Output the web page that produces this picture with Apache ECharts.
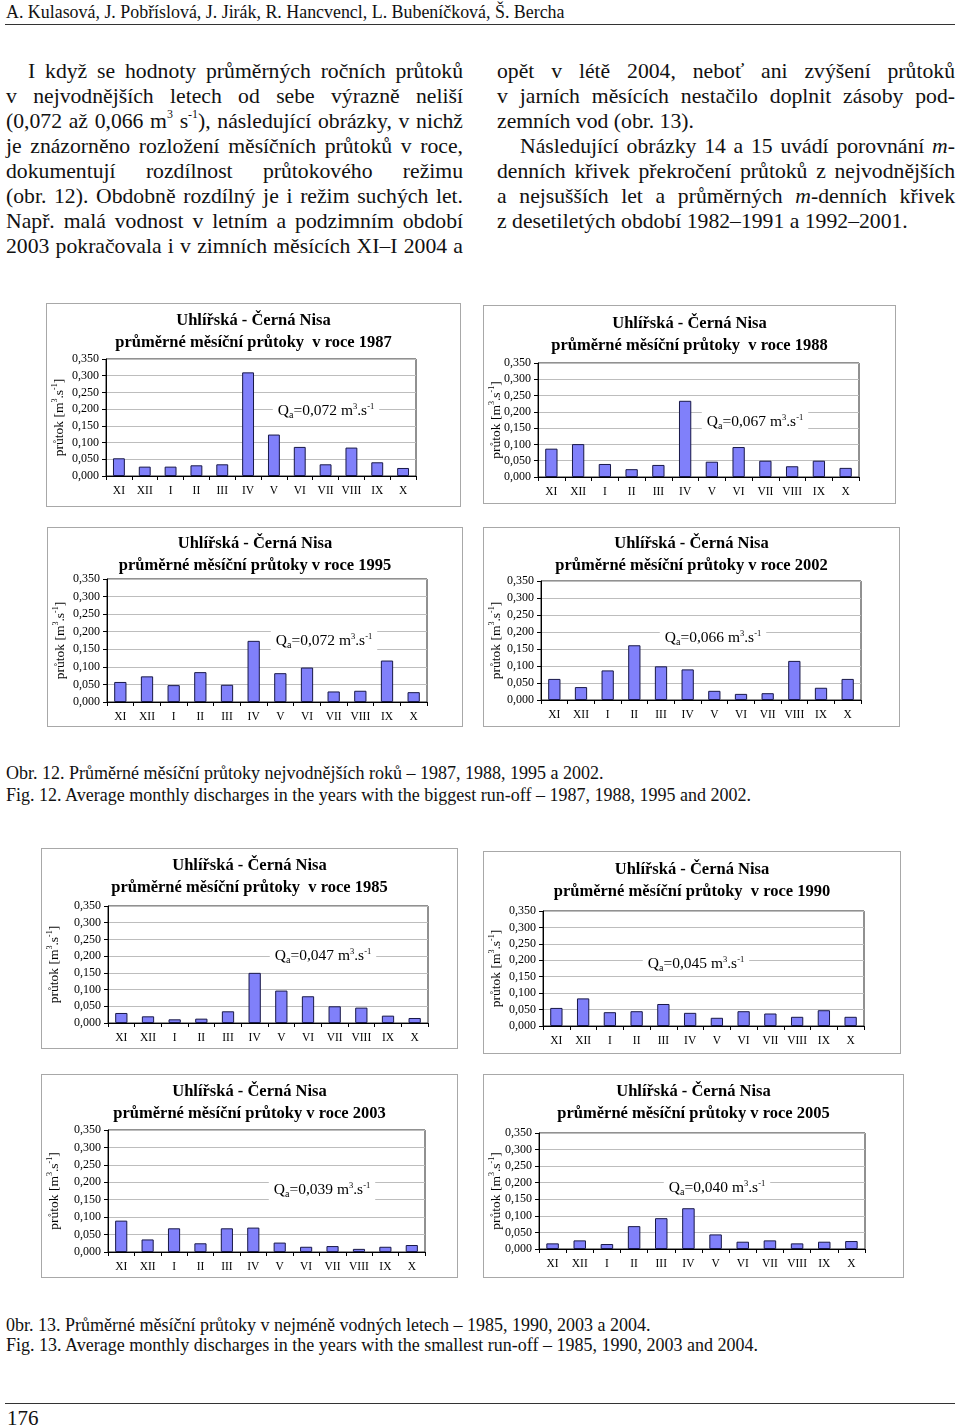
<!DOCTYPE html>
<html><head><meta charset="utf-8">
<script src="https://cdn.jsdelivr.net/npm/echarts@6/dist/echarts.min.js"></script>
<style>
html,body{margin:0;padding:0;background:#fff}
body{width:960px;height:1427px;position:relative;overflow:hidden;font-family:"Liberation Serif","Times New Roman",serif;color:#111}
.t{position:absolute;white-space:nowrap}
.ln{position:absolute;font-size:21.7px;line-height:25px;height:25px;overflow:visible;text-align:justify;text-align-last:justify}
.last{text-align-last:left}
.box{position:absolute;border:1px solid #a8a8a8;box-sizing:border-box;background:#fff}
sup{font-size:0.55em;line-height:0;vertical-align:0.8em}
.rule{position:absolute;height:0;border-top:1px solid #333}
.cap{position:absolute;white-space:nowrap;font-size:18px;line-height:20px}
</style></head>
<body>
<div class="t" style="left:6px;top:2px;font-size:17.9px;line-height:20px">A. Kulasová, J. Pobříslová, J. Jirák, R. Hancvencl, L. Bubeníčková, Š. Bercha</div>
<div class="rule" style="left:5px;top:24px;width:950px"></div>

<div class="ln" style="left:28px;top:59px;width:435px">I když se hodnoty průměrných ročních průtoků</div>
<div class="ln" style="left:6px;top:84px;width:457px">v nejvodnějších letech od sebe výrazně neliší</div>
<div class="ln" style="left:6px;top:109px;width:457px">(0,072 až 0,066 m<sup>3</sup> s<sup>-1</sup>), následující obrázky, v nichž</div>
<div class="ln" style="left:6px;top:134px;width:457px">je znázorněno rozložení měsíčních průtoků v roce,</div>
<div class="ln" style="left:6px;top:159px;width:457px">dokumentují rozdílnost průtokového režimu</div>
<div class="ln" style="left:6px;top:184px;width:457px">(obr. 12). Obdobně rozdílný je i režim suchých let.</div>
<div class="ln" style="left:6px;top:209px;width:457px">Např. malá vodnost v letním a podzimním období</div>
<div class="ln" style="left:6px;top:234px;width:457px">2003 pokračovala i v zimních měsících XI–I 2004 a</div>

<div class="ln" style="left:497px;top:59px;width:458px">opět v létě 2004, neboť ani zvýšení průtoků</div>
<div class="ln" style="left:497px;top:84px;width:458px">v jarních měsících nestačilo doplnit zásoby pod-</div>
<div class="ln last" style="left:497px;top:109px;width:458px">zemních vod (obr. 13).</div>
<div class="ln" style="left:520px;top:134px;width:435px">Následující obrázky 14 a 15 uvádí porovnání <i>m</i>-</div>
<div class="ln" style="left:497px;top:159px;width:458px">denních křivek překročení průtoků z nejvodnějších</div>
<div class="ln" style="left:497px;top:184px;width:458px">a nejsušších let a průměrných <i>m</i>-denních křivek</div>
<div class="ln last" style="left:497px;top:209px;width:458px">z desetiletých období 1982–1991 a 1992–2001.</div>

<div id="c0" class="box"></div>
<div id="c1" class="box"></div>
<div id="c2" class="box"></div>
<div id="c3" class="box"></div>
<div id="c4" class="box"></div>
<div id="c5" class="box"></div>
<div id="c6" class="box"></div>
<div id="c7" class="box"></div>

<div class="cap" style="left:6px;top:763px">Obr. 12. Průměrné měsíční průtoky nejvodnějších roků – 1987, 1988, 1995 a 2002.</div>
<div class="cap" style="left:6px;top:785px">Fig. 12. Average monthly discharges in the years with the biggest run-off – 1987, 1988, 1995 and 2002.</div>
<div class="cap" style="left:6px;top:1315px">0br. 13. Průměrné měsíční průtoky v nejméně vodných letech – 1985, 1990, 2003 a 2004.</div>
<div class="cap" style="left:6px;top:1335px">Fig. 13. Average monthly discharges in the years with the smallest run-off – 1985, 1990, 2003 and 2004.</div>
<div class="rule" style="left:5px;top:1403px;width:950px"></div>
<div class="t" style="left:7px;top:1406px;font-size:21px;line-height:24px">176</div>

<script>
// ---- data ----
const months = ['XI','XII','I','II','III','IV','V','VI','VII','VIII','IX','X'];
const yTickLabels = ['0,000','0,050','0,100','0,150','0,200','0,250','0,300','0,350'];
const years = ['1987','1988','1995','2002','1985','1990','2003','2005'];
const qaValues = ['0,072','0,067','0,072','0,066','0,047','0,045','0,039','0,040'];
const q1987 = [0.053,0.028,0.028,0.032,0.035,0.310,0.124,0.087,0.035,0.085,0.041,0.024];
const q1988 = [0.087,0.101,0.040,0.024,0.037,0.234,0.047,0.092,0.050,0.033,0.050,0.028];
const q1995 = [0.057,0.073,0.048,0.085,0.049,0.174,0.082,0.098,0.030,0.032,0.118,0.028];
const q2002 = [0.062,0.038,0.087,0.161,0.099,0.090,0.027,0.018,0.020,0.115,0.036,0.062];
const q1985 = [0.030,0.020,0.011,0.013,0.035,0.150,0.097,0.080,0.050,0.046,0.022,0.015];
const q1990 = [0.055,0.084,0.042,0.045,0.067,0.040,0.025,0.045,0.038,0.028,0.048,0.028];
const q2003 = [0.090,0.036,0.068,0.025,0.068,0.070,0.027,0.015,0.017,0.009,0.015,0.020];
const q2005 = [0.017,0.026,0.015,0.069,0.093,0.123,0.044,0.022,0.026,0.017,0.022,0.024];
const seriesList = [q1987,q1988,q1995,q2002,q1985,q1990,q2003,q2005];
const titleGaps = ['  ','  ',' ',' ','  ','  ',' ',' '];

// ---- layout (box position/size, plot margins, title line centre, annotation centre) ----
const layout = [
  {x:46, y:303, w:415, h:204, l:60, r:45, t:56, b:31, tt:17, qx:279, qy:107},
  {x:483,y:305, w:413, h:199, l:55, r:37, t:58, b:27, tt:18, qx:271, qy:116},
  {x:47, y:527, w:416, h:200, l:60, r:36, t:52, b:25, tt:16, qx:276, qy:113},
  {x:483,y:527, w:417, h:200, l:58, r:39, t:54, b:27, tt:16, qx:229, qy:110},
  {x:41, y:848, w:417, h:201, l:67, r:30, t:58, b:26, tt:17, qx:281, qy:107},
  {x:483,y:851, w:418, h:203, l:60, r:37, t:60, b:28, tt:18, qx:212, qy:112},
  {x:41, y:1074,w:417, h:204, l:67, r:33, t:56, b:26, tt:17, qx:280, qy:115},
  {x:483,y:1074,w:421, h:204, l:56, r:39, t:59, b:29, tt:17, qx:233, qy:113}
];

const F = '"Liberation Serif","Times New Roman",serif';

layout.forEach(function(L, i){
  const el = document.getElementById('c'+i);
  el.style.left = L.x+'px'; el.style.top = L.y+'px';
  el.style.width = L.w+'px'; el.style.height = L.h+'px';
  const chart = echarts.init(el, null, {renderer:'canvas', width:L.w-2, height:L.h-2});
  chart.setOption({
    animation:false,
    backgroundColor:'#fff',
    title:{
      text:'Uhlířská - Černá Nisa\nprůměrné měsíční průtoky'+titleGaps[i]+'v roce '+years[i],
      left:'center', top:L.tt-11, padding:0,
      textStyle:{fontFamily:F, fontWeight:'bold', fontSize:16.5, lineHeight:21.5, color:'#000'}
    },
    grid:{left:L.l-1, right:L.r-1, top:L.t-1, bottom:L.b-1, show:true, borderColor:'#222', borderWidth:1,
      backgroundColor:'#fff', containLabel:false, outerBoundsMode:'none'},
    xAxis:{
      type:'category', data:months,
      axisLine:{lineStyle:{color:'#000', width:1}},
      axisTick:{show:true, length:4, lineStyle:{color:'#000'}},
      axisLabel:{fontFamily:F, fontSize:11.5, color:'#000', margin:9}
    },
    yAxis:{
      type:'value', min:0, max:0.35, interval:0.05,
      axisLine:{show:true, lineStyle:{color:'#000', width:1}},
      axisTick:{show:true, length:4, lineStyle:{color:'#000'}},
      splitLine:{lineStyle:{color:'#bdbdbd', width:1}},
      axisLabel:{fontFamily:F, fontSize:12, color:'#000', margin:7,
        formatter:function(v){return yTickLabels[Math.round(v/0.05)];}},
      name:'{a|průtok [m}{s|3}{a|.s}{s|-1}{a|]}',
      nameLocation:'middle', nameRotate:90, nameGap:L.l-21, nameMoveOverlap:false,
      nameTextStyle:{rich:{
        a:{fontFamily:F, fontSize:13.5, color:'#000', lineHeight:16},
        s:{fontFamily:F, fontSize:8, color:'#000', lineHeight:9, verticalAlign:'top'}
      }}
    },
    series:[{
      type:'bar', data:seriesList[i], barWidth:'46%',
      itemStyle:{color:'#8080fa', borderColor:'#181848', borderWidth:1},
      silent:true
    }],
    graphic:[{
      type:'text', x:L.qx, y:L.qy, z:100,
      style:{
        text:'{n|Q}{b|a}{n|='+qaValues[i]+' m}{p|3}{n|.s}{p|-1}',
        align:'center', verticalAlign:'middle',
        backgroundColor:'#fff', padding:[1,5],
        rich:{
          n:{fontFamily:F, fontSize:15.5, fill:'#000', color:'#000', lineHeight:18},
          b:{fontFamily:F, fontSize:10, fill:'#000', color:'#000', lineHeight:11, verticalAlign:'bottom'},
          p:{fontFamily:F, fontSize:8.5, fill:'#000', color:'#000', lineHeight:9, verticalAlign:'top'}
        }
      }
    }]
  });
});
</script>
</body></html>
